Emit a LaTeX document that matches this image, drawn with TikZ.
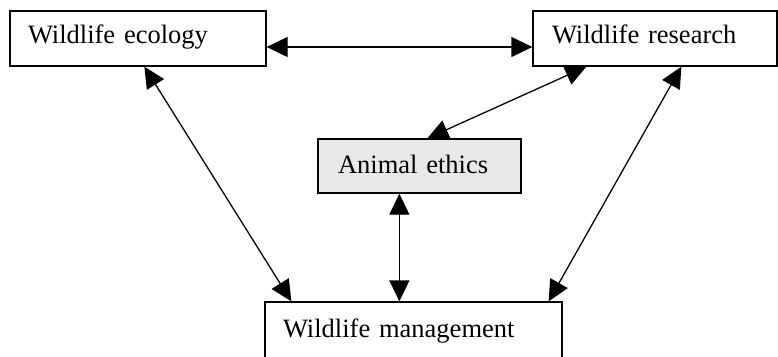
\documentclass[tikz,border=0pt]{standalone}
\usepackage{fontspec}
\setmainfont{Liberation Serif}
\usetikzlibrary{arrows.meta}
\definecolor{ethicsfill}{RGB}{232,232,232}
\tikzset{
  box/.style={draw=black, line width=1.3pt, rectangle, inner xsep=18pt, inner ysep=0pt,
    align=left, text depth=6pt, font=\fontsize{26.5}{30}\selectfont},
  link/.style={line width=1.3pt, {Triangle[length=21pt,width=20pt]}-{Triangle[length=21pt,width=20pt]}}
}
\begin{document}
\begin{tikzpicture}[x=1pt,y=-1pt]
\useasboundingbox (0,0) rectangle (778,356);
\clip (0,0) rectangle (778,356);
\node[box, minimum width=256pt, minimum height=55pt, text width=220pt, text height=15pt] (eco) at (138,38.5) {Wildlife ecology};
\node[box, minimum width=244pt, minimum height=55pt, inner xsep=19pt, text width=206pt, text height=15pt] (res) at (655,38.5) {Wildlife research};
\node[box, fill=ethicsfill, minimum width=203pt, minimum height=54pt, inner xsep=20pt, text width=163pt, text height=20pt] (eth) at (419.5,166) {Animal ethics};
\node[box, minimum width=297pt, minimum height=58pt, text width=261pt, text height=18pt] (man) at (413.5,331) {Wildlife management};
\draw[link] ([yshift=-8.5pt]eco.east) -- ([yshift=-8.5pt]res.west);
\draw[link] ([xshift=135pt]eco.south west) -- ([xshift=27pt]man.north west);
\draw[link] ([xshift=149pt]res.south west) -- ([xshift=-14pt]man.north east);
\draw[link] ([xshift=54pt]res.south west) -- ([xshift=110pt]eth.north west);
\draw[link] ([xshift=82pt]eth.south west) -- ([xshift=135pt]man.north west);
\end{tikzpicture}
\end{document}
